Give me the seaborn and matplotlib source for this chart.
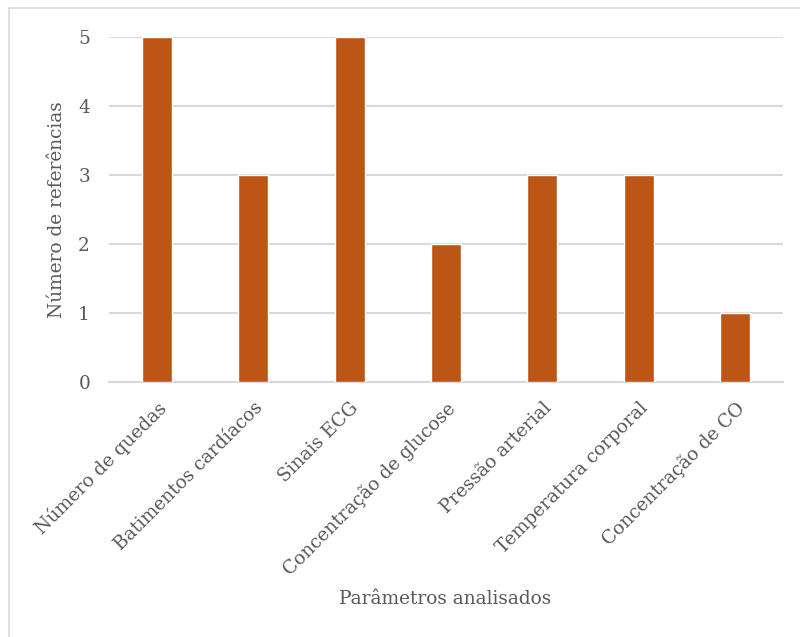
import matplotlib
matplotlib.use("Agg")
import matplotlib.pyplot as plt
import seaborn as sns
import pandas as pd
from matplotlib.patches import Rectangle

categories = ["Número de quedas", "Batimentos cardíacos", "Sinais ECG",
              "Concentração de glucose", "Pressão arterial",
              "Temperatura corporal", "Concentração de CO"]
values = [5, 3, 5, 2, 3, 3, 1]
yticks = [0, 1, 2, 3, 4, 5]

sns.set_theme(style="white")
plt.rcParams['font.family'] = ['DejaVu Serif', 'Liberation Serif']
text_color = "#595959"
fs = 13.3

df = pd.DataFrame({"cat": categories, "val": values})

fig = plt.figure(figsize=(8, 6.37), dpi=100)
ax = fig.add_axes([0.136, 0.4003, 0.843, 0.5417])
sns.barplot(data=df, x="cat", y="val", color="#BD5516", width=0.31,
            saturation=1, ax=ax, zorder=3)
ax.set_ylim(0, 5)
ax.set_yticks(yticks)
ax.set_xlim(-0.5, len(categories) - 0.5)
ax.yaxis.grid(True, color="#D9D9D9", linewidth=1.5, zorder=0)
ax.set_axisbelow(True)
for s in ["top", "right", "left"]:
    ax.spines[s].set_visible(False)
ax.spines["bottom"].set_color("#D9D9D9")
ax.spines["bottom"].set_linewidth(1.5)
ax.tick_params(axis="both", length=0, labelsize=fs, colors=text_color)
ax.tick_params(axis="y", pad=13.5)
ax.tick_params(axis="x", pad=12)
plt.setp(ax.get_xticklabels(), rotation=45, ha="right", rotation_mode="anchor")
ax.set_xlabel("Parâmetros analisados", fontsize=fs, color=text_color)
ax.set_ylabel("Número de referências", fontsize=fs, color=text_color)
ax.xaxis.set_label_coords(0.499, -0.603)
ax.yaxis.set_label_coords(-0.064, 0.5)

fig.patches.append(Rectangle((9/800, -0.1), 1.2, 1 - 8/637 + 0.1, transform=fig.transFigure,
                             fill=False, edgecolor="#D9D9D9", linewidth=1.2))
fig.savefig("out.png", dpi=100, facecolor="white")
